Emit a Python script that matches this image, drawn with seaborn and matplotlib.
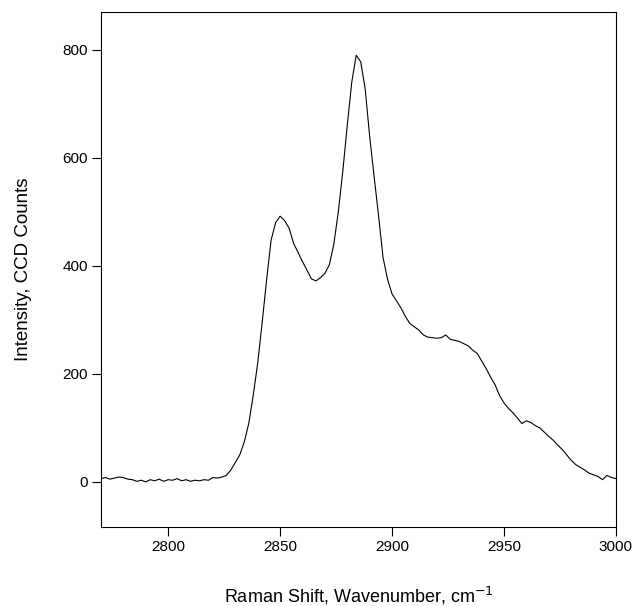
import numpy as np
import pandas as pd
import seaborn as sns
import matplotlib
matplotlib.use("Agg")
import matplotlib.pyplot as plt

wavenumber = list(range(2770, 3001, 2))
intensity = [6, 8, 5, 7, 9, 8, 5, 4, 1, 3, 0, 4, 2, 5, 1, 4, 3, 6, 2, 4,
             1, 3, 2, 4, 3, 8, 7, 9, 12, 22, 36, 50, 74, 108, 160, 220, 295, 375, 448, 480,
             492, 484, 470, 442, 425, 408, 392, 376, 372, 378, 386, 402, 440, 500, 575, 660, 740, 790, 778, 728,
             640, 565, 492, 415, 375, 348, 335, 322, 306, 293, 287, 281, 272, 268, 267, 266, 267, 272, 264, 262,
             260, 256, 252, 244, 238, 224, 210, 194, 180, 160, 146, 136, 128, 118, 108, 113, 110, 104, 100, 92,
             84, 77, 68, 60, 50, 40, 32, 27, 22, 16, 13, 10, 4, 12, 8, 6]
xticks = [2800, 2850, 2900, 2950, 3000]
yticks = [0, 200, 400, 600, 800]

df = pd.DataFrame({"x": wavenumber, "y": intensity})

sns.set_theme(style="ticks")
plt.rcParams['font.family'] = ['Liberation Sans', 'DejaVu Sans']
plt.rcParams['text.color'] = 'black'
plt.rcParams['axes.labelcolor'] = 'black'

fig = plt.figure(figsize=(6.35, 6.06), dpi=100)
ax = fig.add_axes([0.159, 0.130, 0.811, 0.851])
sns.lineplot(data=df, x="x", y="y", ax=ax, color="black", linewidth=0.8)

ax.set_xlim(2770, 3000)
ax.set_ylim(-84, 871)
ax.set_xticks(xticks)
ax.set_yticks(yticks)
ax.tick_params(direction="out", length=6.5, width=0.8, labelsize=11, colors="black", pad=3)
for s in ax.spines.values():
    s.set_visible(True)
    s.set_linewidth(0.8)
    s.set_color("black")
ax.set_xlabel("Raman Shift, Wavenumber, cm$^{-1}$", fontsize=13, labelpad=22, color="black")
ax.set_ylabel("Intensity, CCD Counts", fontsize=13.5, labelpad=22, color="black")
fig.savefig("out.png", dpi=100)
